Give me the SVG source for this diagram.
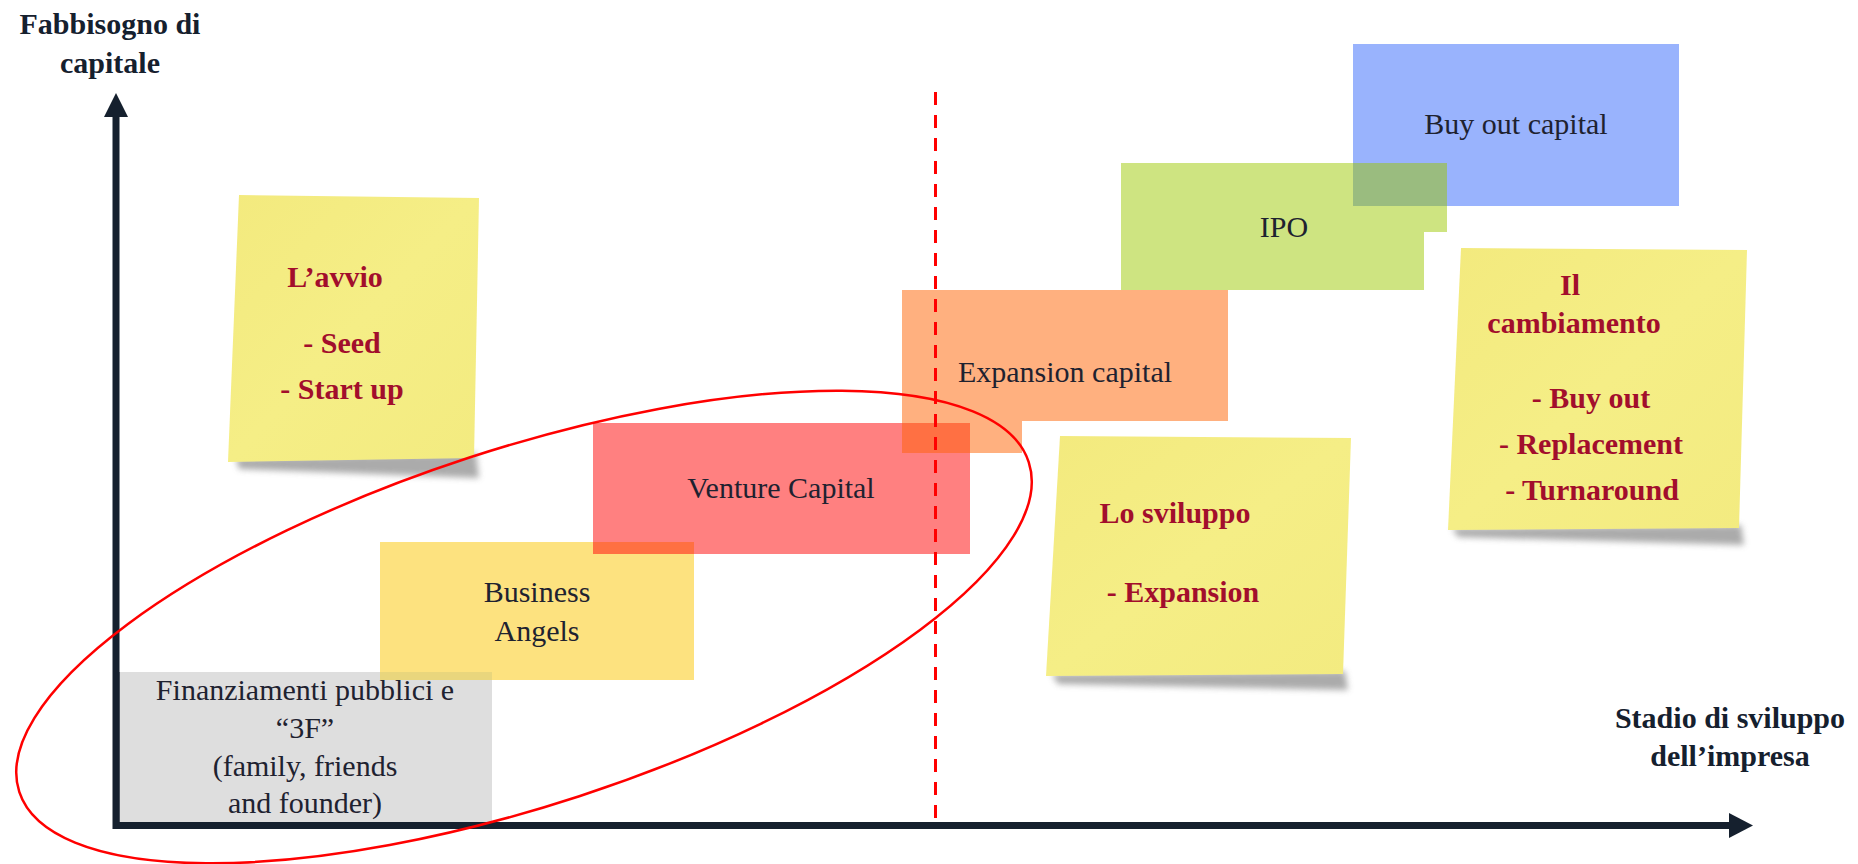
<svg xmlns="http://www.w3.org/2000/svg" width="1858" height="864" viewBox="0 0 1858 864">
<style>
  .lbl{font-family:"Liberation Serif","Times New Roman",serif;font-size:30px;fill:#1E2230;text-anchor:middle}
  .note-t{font-family:"Liberation Serif","Times New Roman",serif;font-size:30px;font-weight:bold;fill:#A20E2C;text-anchor:middle}
  .axis-t{font-family:"Liberation Serif","Times New Roman",serif;font-size:30px;font-weight:bold;fill:#15202E;text-anchor:middle}
  .note{fill:url(#noteGrad)}
  .shadow{fill:#8f8f8f;opacity:0.75;filter:url(#blur)}
</style>
<defs>
  <linearGradient id="noteGrad" x1="0" y1="0" x2="1" y2="1">
    <stop offset="0" stop-color="#F3EA7E"/>
    <stop offset="0.5" stop-color="#F5EE86"/>
    <stop offset="1" stop-color="#F3EB80"/>
  </linearGradient>
  <filter id="blur" x="-20%" y="-50%" width="140%" height="200%">
    <feGaussianBlur stdDeviation="3"/>
  </filter>
</defs>
<rect width="1858" height="864" fill="#FFFFFF"/>

<!-- colored stage boxes -->
<g id="buyout">
  <rect x="1353" y="44" width="326" height="162" fill="#99B3FD"/>
  <text class="lbl" x="1516" y="134">Buy out capital</text>
</g>
<g id="ipo">
  <polygon points="1121,163 1447,163 1447,232 1424,232 1424,290 1121,290" fill="#CEE481"/>
  <rect x="1353" y="163" width="94" height="43" fill="#9ABC7F"/>
  <text class="lbl" x="1284" y="237">IPO</text>
</g>
<g id="expansion-capital">
  <polygon points="902,290 1228,290 1228,421 1022,421 1022,453 902,453" fill="#FFB07F"/>
  <text class="lbl" x="1065" y="382">Expansion capital</text>
</g>
<g id="venture-capital">
  <rect x="593" y="423" width="377" height="131" fill="#FF8080"/>
  <rect x="902" y="423" width="68" height="30" fill="#FF7043"/>
  <text class="lbl" x="781" y="498">Venture Capital</text>
</g>
<g id="business-angels">
  <rect x="380" y="542" width="314" height="138" fill="#FDE27F"/>
  <rect x="593" y="542" width="101" height="12" fill="#FF7042"/>
  <text class="lbl" x="537" y="602">Business</text>
  <text class="lbl" x="537" y="641">Angels</text>
</g>
<g id="finanziamenti">
  <rect x="117" y="672" width="375" height="150" fill="#DEDEDE"/>
  <rect x="380" y="672" width="112" height="8" fill="#E9D67D"/>
  <rect x="117" y="672" width="3" height="150" fill="#7A7F86"/>
  <text class="lbl" x="305" y="700">Finanziamenti pubblici e</text>
  <text class="lbl" x="305" y="738">“3F”</text>
  <text class="lbl" x="305" y="776">(family, friends</text>
  <text class="lbl" x="305" y="813">and founder)</text>
</g>

<!-- sticky notes -->
<g id="note-avvio">
  <polygon class="shadow" points="236,458 476,453 479,478 239,469"/>
  <polygon class="note" points="239,195 479,198 474,458 228,462"/>
  <text class="note-t" x="335" y="287">L’avvio</text>
  <text class="note-t" x="342" y="353">- Seed</text>
  <text class="note-t" x="342" y="399">- Start up</text>
</g>
<g id="note-sviluppo">
  <polygon class="shadow" points="1052,674 1345,671 1348,690 1058,684"/>
  <polygon class="note" points="1060,436 1351,438 1343,674 1046,676"/>
  <text class="note-t" x="1175" y="523">Lo sviluppo</text>
  <text class="note-t" x="1183" y="602">- Expansion</text>
</g>
<g id="note-cambiamento">
  <polygon class="shadow" points="1452,528 1741,525 1744,545 1458,537"/>
  <polygon class="note" points="1461,248 1747,250 1739,528 1448,530"/>
  <text class="note-t" x="1570" y="295">Il</text>
  <text class="note-t" x="1574" y="333">cambiamento</text>
  <text class="note-t" x="1591" y="408">- Buy out</text>
  <text class="note-t" x="1591" y="454">- Replacement</text>
  <text class="note-t" x="1592" y="500">- Turnaround</text>
</g>

<!-- axes and connectors -->
<g id="connectors">
  <line x1="116" y1="829" x2="116" y2="114" stroke="#15202E" stroke-width="7"/>
  <polygon points="104,117 116,93 128,117" fill="#15202E"/>
  <line x1="113" y1="825.5" x2="1731" y2="825.5" stroke="#15202E" stroke-width="7"/>
  <polygon points="1729,813 1753,825.5 1729,838" fill="#15202E"/>
  <line x1="935.5" y1="92" x2="935.5" y2="826" stroke="#FF0000" stroke-width="3" stroke-dasharray="13,10"/>
  <ellipse cx="524" cy="627" rx="531" ry="178" transform="rotate(-18.1 524 627)" fill="none" stroke="#FF0000" stroke-width="2.5"/>
</g>

<g id="axis-labels">
  <text class="axis-t" x="110" y="34">Fabbisogno di</text>
  <text class="axis-t" x="110" y="73">capitale</text>
  <text class="axis-t" x="1730" y="728">Stadio di sviluppo</text>
  <text class="axis-t" x="1730" y="766">dell’impresa</text>
</g>
</svg>
